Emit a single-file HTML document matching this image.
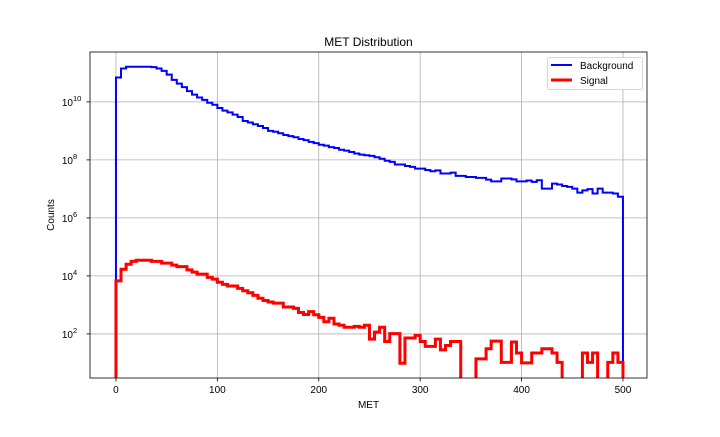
<!DOCTYPE html>
<html><head><meta charset="utf-8"><style>
body{margin:0;background:#fff;}
svg text{font-family:"Liberation Sans",sans-serif;fill:#000;}
</style></head><body>
<svg id="chart" width="720" height="432">
</svg>
<script>
// bin edges: 100 bins of width 5 from 0 to 500
const binStart = 0;
const binWidth = 5;
// log10(counts)
const bgLog10 = [10.84,11.15,11.21,11.21,11.21,11.21,11.21,11.2,11.15,11.07,
10.94,10.76,10.63,10.51,10.37,10.25,10.15,10.07,9.97,9.9,
9.79,9.7,9.64,9.56,9.48,9.34,9.29,9.23,9.17,9.1,
9.0,8.97,8.92,8.86,8.82,8.78,8.72,8.68,8.62,8.58,
8.52,8.49,8.44,8.41,8.35,8.32,8.27,8.22,8.18,8.16,
8.14,8.09,8.04,7.97,7.93,7.84,7.84,7.79,7.76,7.70,
7.70,7.65,7.61,7.64,7.53,7.53,7.56,7.45,7.45,7.41,
7.41,7.38,7.38,7.32,7.26,7.26,7.36,7.36,7.33,7.26,
7.26,7.29,7.24,7.30,7.01,7.01,7.18,7.15,7.10,7.07,
7.01,6.87,6.95,6.99,6.84,7.01,6.87,6.87,6.84,6.73];
const sigLog10 = [3.83,4.23,4.40,4.50,4.54,4.54,4.54,4.50,4.50,4.44,
4.44,4.37,4.32,4.32,4.21,4.13,4.06,4.06,3.95,3.89,
3.78,3.71,3.65,3.65,3.57,3.49,3.42,3.33,3.23,3.15,
3.10,3.06,3.06,2.93,2.93,2.88,2.74,2.67,2.77,2.66,
2.57,2.42,2.54,2.34,2.30,2.23,2.23,2.26,2.23,2.30,
1.82,2.06,2.23,1.74,2.01,2.01,0.99,1.86,1.86,1.95,
1.74,1.57,1.57,1.82,1.45,1.60,1.74,1.74,null,null,
null,1.14,1.14,1.49,1.75,1.75,1.02,1.02,1.72,1.34,
1.0,1.0,1.34,1.34,1.49,1.49,1.34,1.02,null,null,
null,null,1.34,1.02,1.34,null,null,1.02,1.34,1.02];
const xTicks = [0,100,200,300,400,500];
const yTickExp = [2,4,6,8,10];

const NS='http://www.w3.org/2000/svg';
const svg=document.getElementById('chart');
const L=90,R=647,T=52,B=378;
const xMin=-25.6,xMax=523.7;
const yMinLog=0.48,yMaxLog=11.72;
function xs(v){return L+(v-xMin)/(xMax-xMin)*(R-L);}
function ys(l){return B-(l-yMinLog)/(yMaxLog-yMinLog)*(B-T);}
function mk(tag,attrs,parent){const e=document.createElementNS(NS,tag);for(const k in attrs)e.setAttribute(k,attrs[k]);(parent||svg).appendChild(e);return e;}

const clip=mk('clipPath',{id:'clip'});mk('rect',{x:L,y:T,width:R-L,height:B-T},clip);

// grid
const grid=mk('g',{});


xTicks.forEach(t=>{mk('line',{x1:xs(t),x2:xs(t),y1:T,y2:B,stroke:'#b0b0b0','stroke-width':0.8},grid);});
yTickExp.forEach(e=>{mk('line',{x1:L,x2:R,y1:ys(e),y2:ys(e),stroke:'#b0b0b0','stroke-width':0.8},grid);});

function stepPath(arr){
  let d='';const bot=B+5;
  arr.forEach((v,i)=>{
    const x0=xs(binStart+i*binWidth),x1=xs(binStart+(i+1)*binWidth);
    const y=(v===null)?bot:ys(v);
    d+=(i===0?('M'+x0+','+bot+' L'+x0+','+y):(' L'+x0+','+y))+' L'+x1+','+y;
  });
  d+=' L'+xs(binStart+arr.length*binWidth)+','+bot;
  return d;
}
const bg=mk('path',{d:stepPath(bgLog10),fill:'none',stroke:'#0000ff','stroke-width':2,'clip-path':'url(#clip)'});


const sg=mk('path',{d:stepPath(sigLog10),fill:'none',stroke:'#ff0000','stroke-width':3,'clip-path':'url(#clip)'});



// axes frame
const frame=mk('rect',{x:L,y:T,width:R-L,height:B-T,fill:'none',stroke:'#000','stroke-width':0.8});



// x ticks
xTicks.forEach(t=>{
  mk('line',{x1:xs(t),x2:xs(t),y1:B,y2:B+3.5,stroke:'#000','stroke-width':0.8});
  const tx=mk('text',{x:xs(t),y:B+15,'text-anchor':'middle','font-size':10});
  tx.textContent=t;
  
  
});
// y ticks
yTickExp.forEach(e=>{
  mk('line',{x1:L-3.5,x2:L,y1:ys(e),y2:ys(e),stroke:'#000','stroke-width':0.8});
  const tx=mk('text',{x:L-17,y:ys(e)+4,'text-anchor':'end','font-size':10});
  tx.textContent='10';
  
  
  const sp=mk('text',{x:L-17,y:ys(e)-1,'text-anchor':'start','font-size':7.5});
  sp.textContent=String(e);
});

const title=mk('text',{x:(L+R)/2,y:46,'text-anchor':'middle','font-size':12});
title.textContent='MET Distribution';


const xl=mk('text',{x:(L+R)/2,y:408,'text-anchor':'middle','font-size':10});
xl.textContent='MET';


const yl=mk('text',{x:0,y:0,'text-anchor':'middle','font-size':10,transform:'translate(54,'+((T+B)/2)+') rotate(-90)'});
yl.textContent='Counts';



// legend
const lg=mk('g',{});


mk('rect',{x:547.5,y:57.5,width:95,height:32,rx:2,fill:'#fff',stroke:'#ccc','stroke-width':0.8},lg);
mk('line',{x1:551,x2:572,y1:65,y2:65,stroke:'#0000ff','stroke-width':2},lg);
const t1=mk('text',{x:580,y:69,'font-size':10},lg);t1.textContent='Background';


mk('line',{x1:551,x2:572,y1:80,y2:80,stroke:'#ff0000','stroke-width':3},lg);
const t2=mk('text',{x:580,y:84,'font-size':10},lg);t2.textContent='Signal';


</script>
</body></html>
